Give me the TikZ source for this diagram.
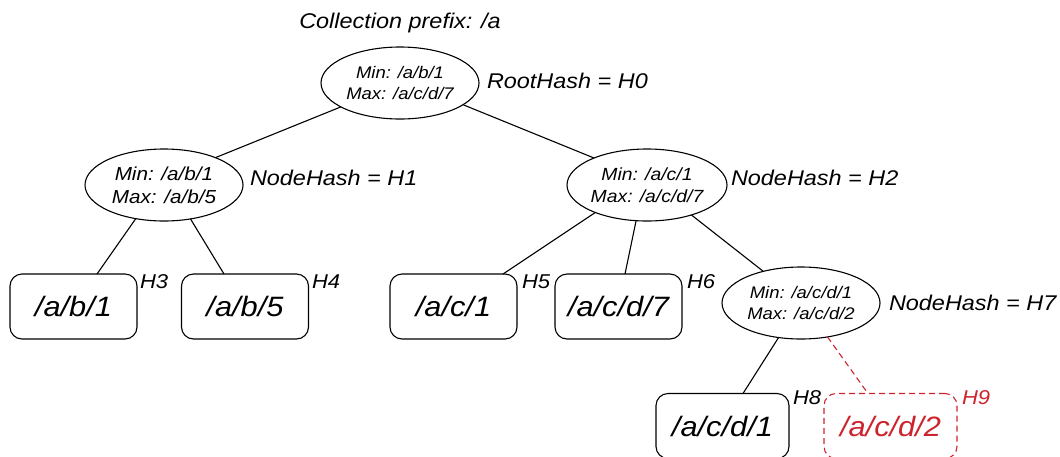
\documentclass[tikz,border=0pt]{standalone}
\usepackage{fontspec}
\setmainfont[FakeStretch=1.1]{Liberation Sans}
\usetikzlibrary{shapes.geometric}
\definecolor{hashred}{RGB}{204,35,45}
\newcommand{\fs}[2]{\fontsize{#1}{#2}\selectfont\itshape}
\begin{document}
\begin{tikzpicture}[x=1pt,y=-1pt,
  every node/.style={inner sep=0pt, outer sep=0pt},
  rangenode/.style={draw, ellipse, line width=1.1pt, minimum width=158pt,
    minimum height=72pt, align=center},
  leafnode/.style={draw, rounded corners=12pt, line width=1.1pt,
    minimum width=127pt, minimum height=65pt, font=\fs{28}{32}},
  hashlabel/.style={anchor=base west, font=\fs{21.3}{24}},
  leaflabel/.style={anchor=base west, font=\fs{20}{22}},
  edge/.style={line width=1.1pt},
  newedge/.style={line width=1.1pt, hashred, dash pattern=on 6pt off 4pt}]
\useasboundingbox (0,0) rectangle (1060,456);

% title
\node[anchor=base, font=\fs{21.3}{24}] (title) at (400,28) {Collection prefix: /a};

% internal nodes with key ranges
\node[rangenode, font=\fs{16.8}{21.7}] (root) at (400,83) {Min: /a/b/1\\Max: /a/c/d/7};
\node[rangenode, font=\fs{18.8}{23.3}] (h1) at (164,185) {Min: /a/b/1\\Max: /a/b/5};
\node[rangenode, minimum width=160pt, font=\fs{17.6}{22}] (h2) at (647,185) {Min: /a/c/1\\Max: /a/c/d/7};
\node[rangenode, font=\fs{16.8}{21.5}] (h7) at (801,303) {Min: /a/c/d/1\\Max: /a/c/d/2};

% hash labels of internal nodes
\node[hashlabel] (l0) at (487,88) {RootHash = H0};
\node[hashlabel] (l1) at (250,185) {NodeHash = H1};
\node[hashlabel] (l2) at (731,185) {NodeHash = H2};
\node[hashlabel] (l7) at (889,310) {NodeHash = H7};

% leaves
\node[leafnode] (ab1) at (73.5,306.5) {/a/b/1};
\node[leafnode] (ab5) at (245,306.5) {/a/b/5};
\node[leafnode] (ac1) at (453.5,306.5) {/a/c/1};
\node[leafnode] (acd7) at (618.5,306.5) {/a/c/d/7};
\node[leafnode, minimum width=133pt] (acd1) at (722.5,426) {/a/c/d/1};
\node[leafnode, minimum width=133pt, draw=hashred, text=hashred,
  dash pattern=on 6pt off 4pt] (acd2) at (890.5,426) {/a/c/d/2};

% leaf hashes
\node[leaflabel] (l3) at (140,288) {H3};
\node[leaflabel] (l4) at (312,288) {H4};
\node[leaflabel] (l5) at (522,288) {H5};
\node[leaflabel] (l6) at (687,288) {H6};
\node[leaflabel] (l8) at (793,404) {H8};
\node[leaflabel, text=hashred] (l9) at (962,404) {H9};

% tree edges
\draw[edge] (root.202) -- (h1.28);
\draw[edge] (root.341) -- (h2.153);
\draw[edge] (h1.230) -- ([xshift=23.5pt]ab1.north);
\draw[edge] (h1.308) -- ([xshift=-21pt]ab5.north);
\draw[edge] (h2.208) -- ([xshift=49.5pt]ac1.north);
\draw[edge] (h2.253) -- ([xshift=6.5pt]acd7.north);
\draw[edge] (h2.326) -- (h7.140);
\draw[edge] (h7.237) -- ([xshift=20.5pt]acd1.north);
\draw[newedge] (h7.308) -- ([xshift=-22.5pt]acd2.north);
\end{tikzpicture}
\end{document}
